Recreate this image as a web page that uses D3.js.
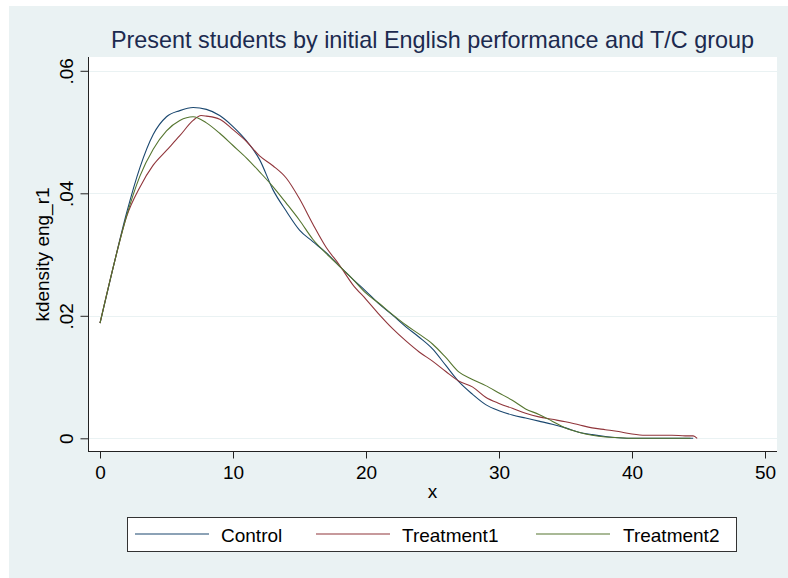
<!DOCTYPE html>
<html>
<head>
<meta charset="utf-8">
<script src="https://cdn.jsdelivr.net/npm/d3@7"></script>
<style>
  html, body { margin: 0; padding: 0; background: #ffffff; }
  svg { display: block; font-family: "Liberation Sans", Arial, sans-serif; }
</style>
</head>
<body>
<svg id="chart" width="788" height="578"></svg>
<script>
// ---- data ----
const titleText = "Present students by initial English performance and T/C group";
const xTitle = "x";
const yTitle = "kdensity eng_r1";
const seriesNames = ["Control", "Treatment1", "Treatment2"];
const seriesColors = ["#1a476f", "#90353b", "#55752f"];

const xTicks = [0, 10, 20, 30, 40, 50];
const yTicks = [0, 0.02, 0.04, 0.06];
const yTickLabels = ["0", ".02", ".04", ".06"];

const controlX = [0,1,2,3,4,5,6,7,8,9,10,11,12,13,14,15,16,17,18,19,20,21,22,23,24,25,26,27,28,29,30,31,32,33,34,35,36,37,38,39,40,41,42,43,44,44.6];
const controlY = [0.0188,0.0280,0.0368,0.0442,0.0496,0.0525,0.0535,0.0540,0.0537,0.0527,0.0509,0.0486,0.0455,0.0406,0.0371,0.0340,0.0321,0.0303,0.0281,0.0260,0.0240,0.0219,0.0201,0.0182,0.0165,0.0146,0.0119,0.0092,0.0072,0.0055,0.0045,0.0038,0.0033,0.0028,0.0023,0.0017,0.0010,0.0006,0.0003,0.0001,0.0000,0.0000,0.0000,0.0000,0.0000,0.0000];

const treat1X = [0,1,2,3,4,5,6,7,7.6,8,9,10,11,12,13,14,15,16,17,18,19,20,21,22,23,24,25,26,27,28,29,30,31,32,33,34,35,36,37,38,39,40,41,42,43,44,44.6,44.9];
const treat1Y = [0.0188,0.0280,0.0362,0.0410,0.0446,0.0470,0.0494,0.0519,0.0527,0.0526,0.0521,0.0504,0.0485,0.0461,0.0445,0.0425,0.0391,0.0350,0.0312,0.0283,0.0251,0.0227,0.0202,0.0179,0.0159,0.0141,0.0126,0.0109,0.0093,0.0084,0.0067,0.0057,0.0049,0.0041,0.0035,0.0031,0.0027,0.0022,0.0017,0.0014,0.0011,0.0007,0.0005,0.0005,0.0005,0.0004,0.0004,0.0000];

const treat2X = [0,1,2,3,4,5,6,7,8,9,10,11,12,13,14,15,16,17,18,19,20,21,22,23,24,25,26,27,28,29,30,31,32,33,34,35,36,37,38,39,40,41,42,43,44,44.4];
const treat2Y = [0.0188,0.0280,0.0363,0.0428,0.0472,0.0502,0.0519,0.0525,0.0515,0.0498,0.0478,0.0458,0.0435,0.0411,0.0384,0.0356,0.0325,0.0302,0.0281,0.0260,0.0237,0.0220,0.0202,0.0185,0.0170,0.0154,0.0132,0.0108,0.0096,0.0086,0.0074,0.0062,0.0048,0.0039,0.0028,0.0017,0.0010,0.0005,0.0002,0.0001,0.0000,0.0000,0.0000,0.0000,0.0000,0.0000];

const seriesX = [controlX, treat1X, treat2X];
const seriesY = [controlY, treat1Y, treat2Y];

// ---- layout ----
const svg = d3.select("#chart");
const plotL = 88, plotR = 777, plotT = 57, plotB = 452;

svg.append("rect").attr("x", 9).attr("y", 6).attr("width", 779).attr("height", 572).attr("fill", "#eaf2f3");
svg.append("rect").attr("x", plotL).attr("y", plotT).attr("width", plotR - plotL).attr("height", plotB - plotT).attr("fill", "#ffffff");

const x = d3.scaleLinear().domain([0, 50]).range([100, 765]);
const y = d3.scaleLinear().domain([0, 0.06]).range([438.3, 70.8]);

// gridlines
svg.append("g").selectAll("line").data(yTicks).join("line")
  .attr("x1", plotL).attr("x2", plotR)
  .attr("y1", d => Math.round(y(d)) + 0.5).attr("y2", d => Math.round(y(d)) + 0.5)
  .attr("stroke", "#eaf2f3").attr("stroke-width", 1.2);

// y axis
const yAxis = d3.axisLeft(y).tickValues(yTicks).tickSize(8).tickPadding(0)
  .tickFormat((d, i) => yTickLabels[i]);
const gy = svg.append("g").attr("transform", `translate(${plotL + 0.5},0)`).call(yAxis);
gy.select(".domain").attr("d", `M0,${plotT}V${plotB}`).attr("stroke", "#222");
gy.selectAll(".tick line").attr("stroke", "#222");
gy.selectAll(".tick text")
  .attr("x", null).attr("dy", null)
  .attr("transform", "translate(-16,0) rotate(-90)")
  .attr("text-anchor", "middle")
  .attr("fill", "#000")
  .style("font-size", "19px");

// x axis
const xAxis = d3.axisBottom(x).tickValues(xTicks).tickSize(7).tickPadding(0).tickFormat(d3.format("d"));
const gx = svg.append("g").attr("transform", `translate(0,${plotB - 0.5})`).call(xAxis);
gx.select(".domain").attr("d", `M${plotL},0H${plotR}`).attr("stroke", "#222");
gx.selectAll(".tick line").attr("stroke", "#222");
gx.selectAll(".tick text")
  .attr("y", 27).attr("dy", null)
  .attr("fill", "#000")
  .style("font-size", "19px");
svg.selectAll(".tick text").style("font-family", "'Liberation Sans', Arial, sans-serif");

// lines
const line = d3.line().x(d => x(d[0])).y(d => y(d[1])).curve(d3.curveMonotoneX);
seriesNames.forEach((name, i) => {
  const pts = seriesX[i].map((xv, j) => [xv, seriesY[i][j]]);
  svg.append("path").datum(pts)
    .attr("d", line)
    .attr("fill", "none")
    .attr("stroke", seriesColors[i])
    .attr("stroke-width", 1.1);
});

// title
svg.append("text").attr("x", 432.5).attr("y", 47.5)
  .attr("text-anchor", "middle").attr("fill", "#1c2a4f")
  .style("font-size", "23.4px").text(titleText);

// axis titles
svg.append("text").attr("x", 432.5).attr("y", 498)
  .attr("text-anchor", "middle").attr("fill", "#000")
  .style("font-size", "19px").text(xTitle);
svg.append("text").attr("transform", `translate(49,${(plotT + plotB) / 2}) rotate(-90)`)
  .attr("text-anchor", "middle").attr("fill", "#000")
  .style("font-size", "19px").text(yTitle);

// legend
const leg = svg.append("g");
leg.append("rect").attr("x", 127.5).attr("y", 517.5).attr("width", 609).attr("height", 34)
  .attr("fill", "#ffffff").attr("stroke", "#333").attr("stroke-width", 1);
const legLineX = [135, 316, 536];
const legTextX = [221, 402, 623];
seriesNames.forEach((name, i) => {
  leg.append("line").attr("x1", legLineX[i]).attr("x2", legLineX[i] + 74)
    .attr("y1", 534).attr("y2", 534)
    .attr("stroke", seriesColors[i]).attr("stroke-width", 1.2);
  leg.append("text").attr("x", legTextX[i]).attr("y", 542)
    .attr("fill", "#000").style("font-size", "19px").text(name);
});
</script>
</body>
</html>
